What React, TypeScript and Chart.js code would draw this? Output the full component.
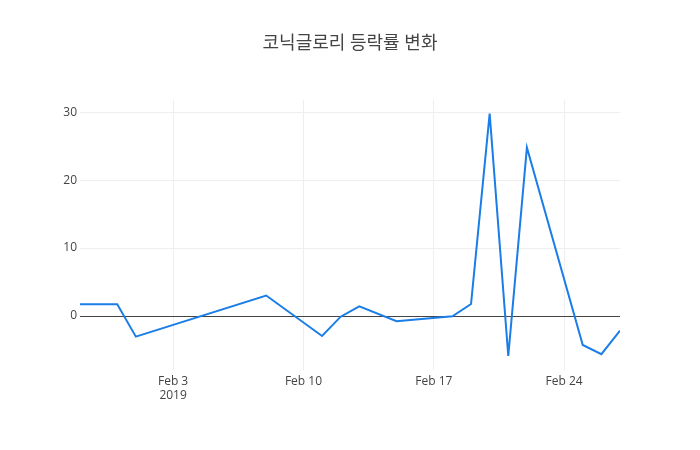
import { useEffect, useRef } from "react";
import { Chart, registerables } from "chart.js";

Chart.register(...registerables);

const title = "코닉글로리 등락률 변화";
const dates = [
  "2019-01-29", "2019-01-31", "2019-02-01", "2019-02-08", "2019-02-11", "2019-02-12",
  "2019-02-13", "2019-02-15", "2019-02-18", "2019-02-19", "2019-02-20", "2019-02-21",
  "2019-02-22", "2019-02-25", "2019-02-26", "2019-02-27",
];
const rates = [
  1.72, 1.72, -3.04, 3.02, -2.94, -0.1,
  1.42, -0.78, -0.05, 1.76, 29.8, -5.88,
  24.8, -4.26, -5.63, -2.16,
];
const xTickDates = ["2019-02-03", "2019-02-10", "2019-02-17", "2019-02-24"];
const yTickValues = [0, 10, 20, 30];
const months = ["Jan", "Feb", "Mar", "Apr", "May", "Jun", "Jul", "Aug", "Sep", "Oct", "Nov", "Dec"];

const toMs = (s: string) => Date.parse(s + "T00:00:00Z");
const FONT = "'Open Sans', 'Noto Sans CJK KR', sans-serif";

const App = () => {
  const canvasRef = useRef<HTMLCanvasElement | null>(null);

  useEffect(() => {
    document.body.style.margin = "0";
    const ctx = canvasRef.current?.getContext("2d");
    if (!ctx) return;

    const points = dates.map((d, i) => ({ x: toMs(d), y: rates[i] }));

    // plotly-style title, centred above the plot
    const titlePlugin = {
      id: "plotTitle",
      afterDraw(chart: Chart) {
        const c = chart.ctx;
        c.save();
        c.font = `18px ${FONT}`;
        c.fillStyle = "#444";
        c.textAlign = "center";
        c.textBaseline = "middle";
        c.fillText(title, 350, 44);
        c.restore();
      },
    };

    const chart = new Chart(ctx, {
      type: "line",
      data: {
        datasets: [
          {
            data: points,
            borderColor: "#1a7de8",
            borderWidth: 2,
            pointRadius: 0,
            tension: 0,
            fill: false,
          },
        ],
      },
      options: {
        responsive: false,
        animation: false,
        layout: { padding: { left: 0, right: 80, top: 100, bottom: 0 } },
        plugins: {
          legend: { display: false },
          tooltip: { enabled: false },
        },
        scales: {
          x: {
            type: "linear",
            min: toMs(dates[0]),
            max: toMs(dates[dates.length - 1]),
            afterBuildTicks: (scale: any) => {
              scale.ticks = xTickDates.map((d) => ({ value: toMs(d) }));
            },
            afterFit: (scale: any) => {
              scale.height = 80;
            },
            ticks: {
              color: "#444",
              font: { family: FONT, size: 12 },
              padding: 4,
              maxRotation: 0,
              autoSkip: false,
              callback: (v: any, i: number) => {
                const d = new Date(Number(v));
                const label = `${months[d.getUTCMonth()]} ${d.getUTCDate()}`;
                return i === 0 ? [label, String(d.getUTCFullYear())] : label;
              },
            },
            grid: { color: "#eee", lineWidth: 1, drawTicks: false },
            border: { display: false },
          },
          y: {
            min: -7.95,
            max: 31.8,
            afterBuildTicks: (scale: any) => {
              scale.ticks = yTickValues.map((v) => ({ value: v }));
            },
            afterFit: (scale: any) => {
              scale.width = 80;
            },
            ticks: {
              color: "#444",
              font: { family: FONT, size: 12 },
              padding: 3,
            },
            grid: {
              color: (c: any) => (c.tick && c.tick.value === 0 ? "#444" : "#eee"),
              lineWidth: 1,
              drawTicks: false,
            },
            border: { display: false },
          },
        },
      },
      plugins: [titlePlugin],
    });

    return () => {
      chart.destroy();
    };
  }, []);

  return (
    <div style={{ width: 700, height: 450, background: "#fff" }}>
      <canvas ref={canvasRef} width={700} height={450}></canvas>
    </div>
  );
};

export default App;
